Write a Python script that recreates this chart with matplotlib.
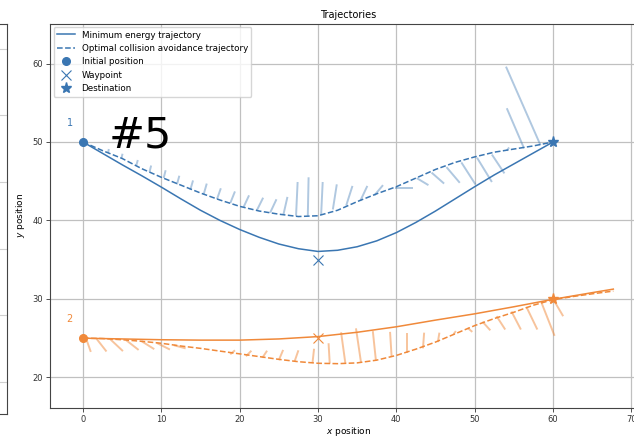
import numpy as np
from matplotlib import pyplot as plt
from matplotlib.collections import LineCollection

BLUE = '#3a76b2'
ORANGE = '#f0893a'

starts = [(0, 50), (0, 25)]
waypoints = [(30, 35), (30, 25)]
destinations = [(60, 50), (60, 30)]

# drone 1
x1_min = np.arange(0, 60.1, 2.5)
y1_min = [50, 48.55, 47.1, 45.7, 44.25, 42.75, 41.3, 40.0, 38.85, 37.85, 37.0,
          36.4, 36.05, 36.2, 36.65, 37.4, 38.45, 39.75, 41.2, 42.75, 44.3,
          45.8, 47.2, 48.6, 50]
x1_opt = np.arange(0, 60.1, 2.5)
y1_opt = [50, 48.9, 47.9, 46.6, 45.5, 44.5, 43.5, 42.6, 41.8, 41.2, 40.8,
          40.5, 40.6, 41.3, 42.4, 43.4, 44.3, 45.4, 46.5, 47.4, 48.1, 48.7,
          49.1, 49.5, 50]

# drone 2
x2_min = [0, 5, 10, 15, 20, 25, 30, 35, 40, 45, 50, 55, 60, 65, 67.7]
y2_min = [25.0, 24.9, 24.8, 24.75, 24.75, 24.9, 25.2, 25.75, 26.45, 27.3,
          28.1, 29.0, 29.95, 30.8, 31.25]
x2_opt = list(np.arange(0, 65.1, 2.5)) + [67.7]
y2_opt = [25, 24.95, 24.8, 24.6, 24.35, 24.0, 23.7, 23.35, 23.0, 22.65, 22.3,
          22.0, 21.8, 21.75, 21.85, 22.2, 22.8, 23.6, 24.5, 25.55, 26.6, 27.5,
          28.3, 29.2, 29.9, 30.3, 30.65, 31.0]

# control vectors along the optimal trajectories: base x, base y, dx, dy
q1_x = [3.2, 4.9, 6.8, 8.5, 10.3, 12.0, 13.7, 15.4, 17.1, 18.8, 20.5, 22.2,
        23.9, 25.6, 27.2, 28.7, 30.4, 31.9, 33.6, 35.4, 37.2, 39.8, 42.6,
        44.5, 46.4, 48.3, 50.3, 52.2, 54.1, 56.3, 58.4]
q1_y = [48.6, 47.9, 47.0, 46.2, 45.4, 44.6, 43.9, 43.3, 42.7, 42.2, 41.7,
        41.3, 41.0, 40.8, 40.6, 40.6, 40.7, 41.4, 41.9, 42.5, 43.2, 44.2,
        45.4, 46.1, 46.8, 47.4, 48.0, 48.4, 48.9, 49.2, 49.6]
q1_u = [0.1, 0.15, 0.2, 0.2, 0.25, 0.3, 0.35, 0.4, 0.5, 0.6, 0.7, 0.8, 0.8,
        0.5, 0.2, 0.1, 0.2, 0.5, 0.8, 0.9, 1.1, 2.3, 1.5, 1.6, 1.7, 1.8, 1.9,
        1.6, 0.3, -2.2, -4.4]
q1_v = [0.5, 0.6, 0.7, 0.8, 1.0, 1.1, 1.2, 1.4, 1.4, 1.5, 1.5, 1.6, 1.7,
        2.2, 4.3, 4.9, 4.2, 3.2, 2.5, 1.9, 1.3, 0.0, -0.9, -1.4, -2.0, -2.8,
        -3.1, -2.4, 0.4, 5.1, 10.0]

q2_x = [0.4, 1.75, 3.5, 5.5, 7.5, 9.4, 11.6, 18.8, 20.8, 22.9, 25.0, 27.0,
        29.3, 31.5, 33.5, 35.5, 37.4, 39.4, 41.4, 43.4, 45.3, 47.3, 49.1,
        51.0, 52.8, 54.7, 56.6, 58.5, 60.0]
q2_y = [24.95, 24.9, 24.85, 24.75, 24.6, 24.4, 24.1, 22.95, 22.7, 22.5, 22.2,
        22.0, 21.85, 21.75, 21.75, 21.85, 22.1, 22.6, 23.1, 23.7, 24.5, 25.5,
        26.3, 27.1, 27.8, 28.4, 29.0, 29.6, 30.0]
q2_u = [0.6, 1.25, 1.6, 1.6, 1.6, 1.7, 1.5, 0.6, 0.7, 0.6, 0.55, 0.5, 0.2,
        -0.15, -0.55, -0.65, -0.4, -0.2, 0.0, 0.15, 0.2, 0.3, 0.6, 1.0, 1.1,
        1.2, 1.4, 1.7, 1.3]
q2_v = [-1.7, -1.6, -1.5, -1.25, -1.0, -0.85, -0.4, 0.5, 0.7, 0.9, 1.3, 1.45,
        1.8, 2.6, 4.0, 4.4, 3.8, 3.2, 2.6, 2.0, 1.2, 0.4, -0.5, -1.1, -1.7,
        -2.3, -2.9, -4.3, -2.2]

fig = plt.figure(figsize=(6.34, 4.37), dpi=100)

# neighbouring panel, cut off on the left
side = fig.add_axes([-0.3, 1 - 414 / 437, 0.3 + 7 / 634, 390.5 / 437])
side.set_ylim(-0.48, 5.38)
side.set_yticks(range(6))
side.set_xticks([])
side.tick_params(length=0, labelleft=False)
side.grid(True, color='#d0d0d0')
for s in side.spines.values():
    s.set_color('#444444')

ax = fig.add_axes([50 / 634, 1 - 408 / 437, 597 / 634, 384.5 / 437])
ax.set_xlim(-4.21, 72)
ax.set_ylim(16.1, 65.1)
ax.grid(True, color='#c0c0c0', linewidth=0.9)
ax.set_axisbelow(True)
for s in ax.spines.values():
    s.set_color('#444444')

colors = [BLUE, ORANGE]
mins = [(x1_min, y1_min), (x2_min, y2_min)]
opts = [(x1_opt, y1_opt), (x2_opt, y2_opt)]
quivs = [(q1_x, q1_y, q1_u, q1_v), (q2_x, q2_y, q2_u, q2_v)]
alphas = [0.4, 0.5]

for i, c in enumerate(colors):
    qx, qy, qu, qv = map(np.asarray, quivs[i])
    segs = np.stack([np.column_stack([qx, qy]),
                     np.column_stack([qx + qu, qy + qv])], axis=1)
    ax.add_collection(LineCollection(segs, colors=c, alpha=alphas[i],
                                     linewidths=1.4))
    ax.plot(*mins[i], color=c, linewidth=1.1,
            label='Minimum energy trajectory' if i == 0 else None)
    ax.plot(*opts[i], color=c, linewidth=1.1, linestyle='--',
            label='Optimal collision avoidance trajectory' if i == 0 else None)
    ax.plot(*starts[i], 'o', color=c, markersize=5.5,
            label='Initial position' if i == 0 else None)
    ax.plot(*waypoints[i], 'x', color=c, markersize=7, markeredgewidth=0.8,
            label='Waypoint' if i == 0 else None)
    ax.plot(*destinations[i], '*', color=c, markersize=8,
            label='Destination' if i == 0 else None)
    ax.text(starts[i][0] - 1.7, starts[i][1] + 2.4, str(i + 1), color=c,
            fontsize=7, ha='center', va='center')

ax.legend(loc='upper left', fontsize=6.3, borderaxespad=0.4)
ax.set_title('Trajectories', fontsize=7, pad=4)
ax.set_xlabel('$x$ position', fontsize=6.5, labelpad=0.5)
ax.set_ylabel('$y$ position', fontsize=6.5, labelpad=4)
ax.tick_params(labelsize=6, length=3, width=0.6, pad=2, colors='#333333')

fig.text(109 / 634, 1 - 148 / 437, '#5', fontsize=31, color='black',
         va='baseline', ha='left')

plt.savefig('out.png', dpi=100)
